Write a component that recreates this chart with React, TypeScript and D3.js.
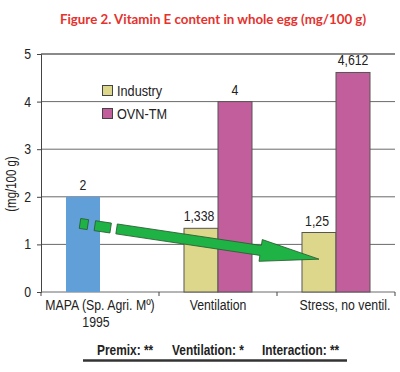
import { useEffect, useRef } from "react";
import * as d3 from "d3";

const categories = ["MAPA (Sp. Agri. Mº)|1995", "Ventilation", "Stress, no ventil."];
const series = ["Industry", "OVN-TM"];
const mapaValues = [2, null, null];
const industryValues = [null, 1.338, 1.25];
const ovnValues = [null, 4, 4.612];
const valueLabels = [
  ["2", "1,338", "1,25"],
  [null, "4", "4,612"],
];
const yTicks = [0, 1, 2, 3, 4, 5];
const footerItems = ["Premix: **", "Ventilation: *", "Interaction: **"];

const SANS = "'Liberation Sans', Arial, sans-serif";
const NARROW_X = 0.82; // squeeze Arial-metric text to look like Arial Narrow

type Sel = d3.Selection<any, unknown, null, undefined>;

// narrow text helper: positions via translate, squeezes horizontally
function narrowText(
  parent: Sel,
  x: number,
  y: number,
  txt: string,
  opts: { size?: number; anchor?: string; bold?: boolean; fill?: string } = {}
) {
  return parent
    .append("text")
    .attr("transform", `translate(${x},${y}) scale(${NARROW_X},1)`)
    .attr("text-anchor", opts.anchor ?? "start")
    .attr("font-family", SANS)
    .attr("font-weight", opts.bold ? "bold" : "normal")
    .attr("font-size", opts.size ?? 14)
    .attr("fill", opts.fill ?? "#222")
    .text(txt);
}

const App = () => {
  const svgRef = useRef<SVGSVGElement | null>(null);

  useEffect(() => {
    const svg = d3.select(svgRef.current) as unknown as Sel;
    svg.selectAll("*").remove();

    const left = 41,
      right = 395,
      top = 54,
      bottom = 292;

    const x = d3.scaleBand().domain(categories).range([left, right]).padding(0);
    const xSub = d3
      .scaleBand()
      .domain(series)
      .range([0, x.bandwidth()])
      .paddingInner(0)
      .paddingOuter(0.735);
    const y = d3.scaleLinear().domain([0, 5]).range([bottom, top]);

    // title
    svg
      .append("text")
      .attr("x", 213)
      .attr("y", 24)
      .attr("text-anchor", "middle")
      .attr("font-family", "Lato, 'Open Sans', sans-serif")
      .attr("font-weight", "bold")
      .attr("font-size", 13.3)
      .attr("fill", "#e5322d")
      .text("Figure 2. Vitamin E content in whole egg (mg/100 g)");

    // grid
    svg
      .append("g")
      .selectAll("line")
      .data(yTicks.filter((d) => d > 0))
      .enter()
      .append("line")
      .attr("x1", left)
      .attr("x2", right)
      .attr("y1", (d) => y(d))
      .attr("y2", (d) => y(d))
      .attr("stroke", (d) => (d === 5 ? "#8a8a8a" : "#6a6a6a"))
      .attr("stroke-width", (d) => (d === 5 ? 2 : 1));

    // y axis
    const yAxis = svg
      .append("g")
      .attr("transform", `translate(${left},0)`)
      .call(d3.axisLeft(y).tickValues(yTicks).tickSize(4).tickFormat(() => ""));
    yAxis.select(".domain").attr("stroke", "#444");
    yAxis.selectAll(".tick line").attr("stroke", "#444");
    yTicks.forEach((t) => {
      narrowText(svg, 31, y(t) + 5, String(t), { anchor: "end", size: 15 });
    });

    // x axis baseline + ticks at band edges
    svg
      .append("line")
      .attr("x1", left)
      .attr("x2", right)
      .attr("y1", bottom)
      .attr("y2", bottom)
      .attr("stroke", "#6a6a6a");
    const edges = categories.map((c) => x(c)!).concat([right]);
    svg
      .append("g")
      .selectAll("line")
      .data(edges)
      .enter()
      .append("line")
      .attr("x1", (d) => d)
      .attr("x2", (d) => d)
      .attr("y1", bottom)
      .attr("y2", bottom + 4)
      .attr("stroke", "#444");

    // category labels
    categories.forEach((c, i) => {
      const cx = x(c)! + x.bandwidth() / 2 + (i === 2 ? 9 : 0);
      c.split("|").forEach((l, j) => {
        narrowText(svg, cx - (j > 0 ? 4 : 0), 310 + j * 17, l, { anchor: "middle", size: 15 });
      });
    });

    // bars
    const bars: { cat: string; key: string; v: number; fill: string; stroke: string }[] = [];
    categories.forEach((c, i) => {
      if (mapaValues[i] != null)
        bars.push({ cat: c, key: "Industry", v: mapaValues[i]!, fill: "#609fd8", stroke: "none" });
      if (industryValues[i] != null)
        bars.push({ cat: c, key: "Industry", v: industryValues[i]!, fill: "#ddd78c", stroke: "#555" });
      if (ovnValues[i] != null)
        bars.push({ cat: c, key: "OVN-TM", v: ovnValues[i]!, fill: "#c25e9c", stroke: "#555" });
    });
    svg
      .append("g")
      .selectAll("rect")
      .data(bars)
      .enter()
      .append("rect")
      .attr("x", (d) => x(d.cat)! + xSub(d.key)!)
      .attr("y", (d) => y(d.v))
      .attr("width", xSub.bandwidth())
      .attr("height", (d) => bottom - y(d.v))
      .attr("fill", (d) => d.fill)
      .attr("stroke", (d) => d.stroke)
      .attr("stroke-width", 1);

    // value labels
    const allVals = [categories.map((_, i) => mapaValues[i] ?? industryValues[i]), ovnValues];
    series.forEach((s, si) => {
      categories.forEach((c, i) => {
        const lab = valueLabels[si][i];
        const v = allVals[si][i];
        if (lab == null || v == null) return;
        const cx = x(c)! + xSub(s)! + xSub.bandwidth() / 2 - (si === 0 && i > 0 ? 2 : 0);
        narrowText(svg, cx, y(v) - 7, lab, { anchor: "middle", size: 15 });
      });
    });

    // legend
    const legendColors = ["#ddd78c", "#c25e9c"];
    series.forEach((s, i) => {
      const ly = 85 + i * 23;
      svg
        .append("rect")
        .attr("x", 102.5)
        .attr("y", ly + 0.5)
        .attr("width", 10)
        .attr("height", 10)
        .attr("fill", legendColors[i])
        .attr("stroke", "#444");
      narrowText(svg, 117, ly + 10.5, s, { size: 15.5 });
    });

    // y title
    svg
      .append("text")
      .attr("transform", `translate(16,184) rotate(-90) scale(${NARROW_X},1)`)
      .attr("text-anchor", "middle")
      .attr("font-family", SANS)
      .attr("font-size", 14)
      .attr("fill", "#222")
      .text("(mg/100 g)");

    // green trend arrow from MAPA bar to Stress/Industry bar
    const sx = x(categories[0])! + xSub("Industry")! + xSub.bandwidth() / 2 - 3;
    const sy = y(1.44);
    const ex = x(categories[2])! + xSub("Industry")! + xSub.bandwidth() / 2;
    const ey = y(0.69);
    const len = Math.hypot(ex - sx, ey - sy);
    const ang = (Math.atan2(ey - sy, ex - sx) * 180) / Math.PI;
    const arrow = svg
      .append("g")
      .attr("transform", `translate(${sx},${sy}) rotate(${ang})`)
      .attr("fill", "#1fb345")
      .attr("stroke", "#2b5a2f")
      .attr("stroke-width", 0.8);
    const hw = 5;
    arrow.append("rect").attr("x", 0).attr("y", -hw).attr("width", 8).attr("height", hw * 2);
    arrow.append("rect").attr("x", 15).attr("y", -hw).attr("width", 16).attr("height", hw * 2);
    const headBase = len - 59;
    arrow
      .append("path")
      .attr(
        "d",
        `M37,${-hw} L${headBase},${-hw} L${headBase},${-11} L${len},0 L${headBase},11 L${headBase},${hw} L37,${hw} Z`
      );

    // footer
    const fx = [97, 172, 262];
    footerItems.forEach((f, i) => {
      narrowText(svg, fx[i], 355, f, { bold: true, size: 14.5 });
    });
    svg
      .append("line")
      .attr("x1", 83)
      .attr("x2", 347)
      .attr("y1", 360.5)
      .attr("y2", 360.5)
      .attr("stroke", "#333")
      .attr("stroke-width", 2.5);
  }, []);

  return (
    <svg
      ref={svgRef}
      width={400}
      height={372}
      style={{ position: "absolute", left: 0, top: 0, background: "#fff" }}
    ></svg>
  );
};

export default App;
